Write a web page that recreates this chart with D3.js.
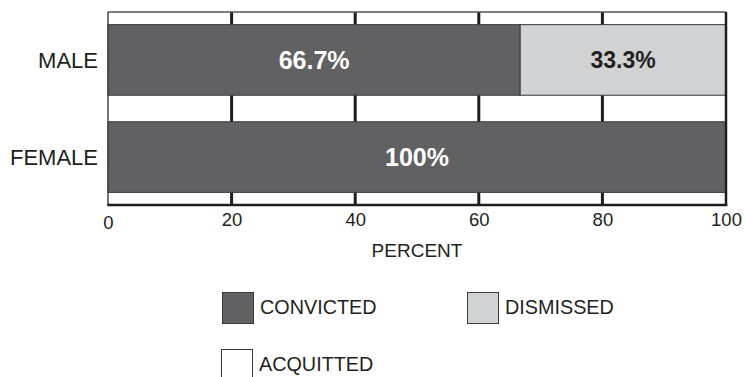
<!DOCTYPE html>
<html>
<head>
<meta charset="utf-8">
<script src="https://cdn.jsdelivr.net/npm/d3@7"></script>
<style>
  html, body { margin: 0; padding: 0; background: #fff; }
  svg { display: block; font-family: "Liberation Sans", Arial, sans-serif; }
</style>
</head>
<body>
<svg id="chart" width="745" height="377"></svg>
<script>
// Case outcomes by sex, as percent of cases
const categories = ["MALE", "FEMALE"];
const outcomes = ["CONVICTED", "DISMISSED", "ACQUITTED"];
const convicted = [66.7, 100];
const dismissed = [33.3, 0];
const acquitted = [0, 0];
const valueLabels = [["66.7%", "33.3%", ""], ["100%", "", ""]];
const xTicks = [0, 20, 40, 60, 80, 100];

const colors = { CONVICTED: "#616163", DISMISSED: "#d1d2d4", ACQUITTED: "#ffffff" };
const labelColors = { CONVICTED: "#ffffff", DISMISSED: "#231f20", ACQUITTED: "#231f20" };
const ink = "#231f20";

const svg = d3.select("#chart");
const plotLeft = 108, plotRight = 726, plotTop = 12, plotBottom = 205;

const x = d3.scaleLinear().domain([0, 100]).range([plotLeft, plotRight]);
const y = d3.scaleBand().domain(categories).range([plotTop, plotBottom])
  .paddingInner(0.273).paddingOuter(0.13);

// stacked rows
const rows = categories.map((c, i) => ({
  category: c,
  CONVICTED: convicted[i], DISMISSED: dismissed[i], ACQUITTED: acquitted[i]
}));
const stacked = d3.stack().keys(outcomes)(rows);

// vertical grid lines behind the bars
svg.append("g").selectAll("line")
  .data(xTicks.filter(t => t > 0 && t < 100))
  .join("line")
  .attr("x1", d => x(d)).attr("x2", d => x(d))
  .attr("y1", plotTop).attr("y2", plotBottom)
  .attr("stroke", "#1e1e1e").attr("stroke-width", 3);

// bars
const layer = svg.append("g").selectAll("g").data(stacked).join("g");
layer.selectAll("rect")
  .data(d => d.map(s => ({ key: d.key, s })).filter(e => e.s[1] - e.s[0] > 0))
  .join("rect")
  .attr("x", d => x(d.s[0]))
  .attr("y", d => y(d.s.data.category))
  .attr("width", d => x(d.s[1]) - x(d.s[0]))
  .attr("height", y.bandwidth())
  .attr("fill", d => colors[d.key])
  .attr("stroke", "#3a3a3a").attr("stroke-width", 1);

// value labels inside each segment
stacked.forEach((series, k) => {
  series.forEach((s, i) => {
    const text = valueLabels[i][k];
    if (!text || s[1] - s[0] <= 0) return;
    svg.append("text")
      .attr("x", (x(s[0]) + x(s[1])) / 2)
      .attr("y", y(categories[i]) + y.bandwidth() / 2)
      .attr("dy", "0.36em")
      .attr("text-anchor", "middle")
      .attr("font-weight", "bold")
      .attr("font-size", series.key === "CONVICTED" ? 25 : 23)
      .attr("fill", labelColors[series.key])
      .text(text);
  });
});

// plot frame
svg.append("line").attr("x1", plotLeft).attr("x2", plotRight).attr("y1", plotTop).attr("y2", plotTop)
  .attr("stroke", "#555").attr("stroke-width", 1.5);
svg.append("line").attr("x1", plotLeft).attr("x2", plotLeft).attr("y1", plotTop).attr("y2", plotBottom)
  .attr("stroke", "#444").attr("stroke-width", 1.5);
svg.append("line").attr("x1", plotRight).attr("x2", plotRight).attr("y1", plotTop).attr("y2", plotBottom + 1)
  .attr("stroke", "#1e1e1e").attr("stroke-width", 2.5);
svg.append("line").attr("x1", plotLeft - 0.75).attr("x2", plotRight + 1.25).attr("y1", plotBottom).attr("y2", plotBottom)
  .attr("stroke", "#1e1e1e").attr("stroke-width", 2.5);

// category labels
svg.append("g").selectAll("text").data(categories).join("text")
  .attr("x", plotLeft - 10)
  .attr("y", d => y(d) + y.bandwidth() / 2)
  .attr("dy", "0.36em")
  .attr("text-anchor", "end")
  .attr("font-size", 22)
  .attr("fill", ink)
  .text(d => d);

// x axis tick labels
const xAxis = d3.axisBottom(x).tickValues(xTicks).tickSize(0).tickPadding(0);
const gx = svg.append("g").attr("transform", `translate(0,${plotBottom})`).call(xAxis);
gx.select(".domain").remove();
gx.selectAll("text")
  .attr("font-family", "Liberation Sans, Arial, sans-serif")
  .attr("font-size", 18.5)
  .attr("fill", ink)
  .attr("dy", 0)
  .attr("y", d => d === 0 ? 24 : 21);

// axis title
svg.append("text")
  .attr("x", (plotLeft + plotRight) / 2).attr("y", 257)
  .attr("text-anchor", "middle")
  .attr("font-size", 19)
  .attr("fill", ink)
  .text("PERCENT");

// legend
const legendItems = [
  { key: "CONVICTED", x: 222, y: 292 },
  { key: "DISMISSED", x: 467, y: 292 },
  { key: "ACQUITTED", x: 221, y: 349 }
];
const lg = svg.append("g").selectAll("g").data(legendItems).join("g")
  .attr("transform", d => `translate(${d.x},${d.y})`);
lg.append("rect")
  .attr("x", 0.5).attr("y", 0.5).attr("width", 31).attr("height", 31)
  .attr("fill", d => colors[d.key])
  .attr("stroke", "#3a3a3a").attr("stroke-width", 1);
lg.append("text")
  .attr("x", 38).attr("y", 21.5)
  .attr("font-size", 19.8)
  .attr("fill", ink)
  .text(d => d.key);
</script>
</body>
</html>
